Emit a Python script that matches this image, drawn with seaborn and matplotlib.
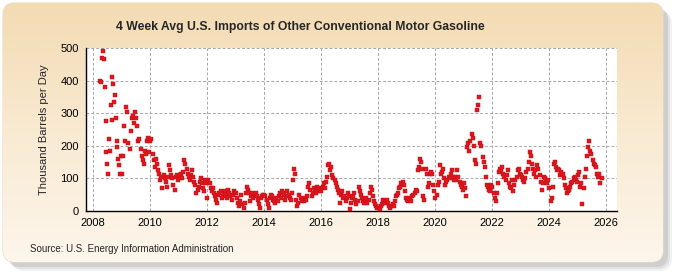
import numpy as np
import pandas as pd
import matplotlib
matplotlib.use("Agg")
import matplotlib.pyplot as plt
from matplotlib.patches import FancyBboxPatch
import seaborn as sns

# ---------------------------------------------------------------------
# DATA (thousand barrels per day, ~biweekly)
# ---------------------------------------------------------------------
years = list(range(2008, 2026))
start_2008 = 2008.25
end_2025 = 2025.87

v2008 = [400, 395, 470, 490, 465, 380, 275, 180, 145, 115, 220, 185, 325,
         280, 410, 390, 335, 355, 285, 215, 195, 160, 140, 115, 170]
v2009 = [115, 170, 260, 215, 320, 305, 210, 190, 245, 285, 290, 270, 305,
         285, 260, 215, 220, 190, 170, 155, 145, 185, 175, 215, 225, 180]
v2010 = [215, 220, 175, 155, 135, 160, 145, 125, 115, 95, 105, 70, 110,
         100, 90, 75, 105, 140, 125, 110, 100, 80, 65, 105, 110, 95]
v2011 = [105, 110, 115, 100, 120, 155, 145, 130, 115, 105, 95, 110, 125,
         105, 90, 80, 55, 65, 75, 90, 100, 85, 70, 60, 95, 85]
v2012 = [40, 95, 85, 70, 60, 70, 55, 45, 35, 25, 50, 55, 60,
         40, 45, 55, 60, 50, 40, 65, 55, 45, 35, 50, 60, 55]
v2013 = [55, 40, 25, 15, 30, 50, 20, 10, 25, 55, 75, 65, 55,
         30, 45, 55, 40, 50, 55, 45, 35, 20, 8, 40, 45, 50]
v2014 = [50, 45, 35, 20, 10, 40, 50, 45, 35, 30, 25, 40, 30,
         45, 55, 40, 60, 55, 50, 35, 45, 60, 50, 40, 35, 55]
v2015 = [95, 130, 115, 35, 15, 25, 50, 40, 30, 35, 30, 40, 35,
         45, 75, 85, 65, 45, 55, 70, 60, 55, 75, 65, 70, 60]
v2016 = [60, 75, 85, 70, 90, 105, 140, 145, 125, 135, 110, 100, 95,
         85, 75, 65, 55, 25, 50, 60, 40, 45, 30, 40, 55, 45]
v2017 = [5, 25, 40, 45, 55, 35, 20, 30, 75, 60, 50, 40, 30,
         25, 35, 40, 25, 35, 55, 75, 65, 45, 30, 20, 15, 10]
v2018 = [10, 5, 15, 20, 35, 30, 25, 30, 35, 25, 15, 10, 15,
         20, 15, 30, 45, 50, 55, 70, 75, 85, 90, 80, 60, 40]
v2019 = [35, 30, 40, 35, 30, 45, 50, 55, 65, 60, 125, 135, 160,
         150, 130, 45, 35, 130, 115, 75, 85, 115, 120, 115, 80, 60]
v2020 = [40, 50, 80, 90, 140, 115, 120, 130, 100, 80, 90, 95, 105,
         100, 115, 125, 105, 95, 105, 95, 125, 105, 90, 80, 75, 65]
v2021 = [85, 70, 45, 195, 210, 185, 215, 235, 225, 200, 155, 145, 310,
         325, 350, 210, 200, 165, 150, 135, 105, 80, 75, 65, 60, 80]
v2022 = [75, 55, 40, 30, 55, 85, 120, 130, 125, 135, 115, 105, 95,
         110, 125, 85, 75, 70, 95, 60, 80, 95, 105, 125, 130, 115]
v2023 = [110, 105, 95, 90, 100, 120, 130, 150, 180, 170, 145, 130, 115,
         125, 105, 140, 130, 110, 90, 65, 85, 105, 100, 90, 85, 95]
v2024 = [70, 30, 40, 75, 145, 150, 135, 125, 130, 125, 110, 120, 115,
         100, 80, 70, 55, 60, 65, 75, 85, 90, 100, 105, 95, 90]
v2025 = [110, 120, 75, 85, 20, 70, 105, 130, 170, 195, 215, 185, 175,
         155, 145, 140, 135, 115, 105, 115, 85, 100]

yearly = [v2008, v2009, v2010, v2011, v2012, v2013, v2014, v2015, v2016,
          v2017, v2018, v2019, v2020, v2021, v2022, v2023, v2024, v2025]

x_ticks = list(range(2008, 2027, 2))
y_ticks = [0, 100, 200, 300, 400, 500]

# build a long table: decimal year -> value
rows = []
for yr, vals in zip(years, yearly):
    s = start_2008 if yr == 2008 else yr
    e = end_2025 if yr == 2025 else yr + 1
    n = len(vals)
    for i, v in enumerate(vals):
        rows.append({"date": s + (i + 0.5) * (e - s) / n, "value": v})
df = pd.DataFrame(rows)

# ---------------------------------------------------------------------
# PLOT
# ---------------------------------------------------------------------
sns.set_style("white")
plt.rcParams["font.family"] = ["Liberation Sans", "DejaVu Sans"]

fig = plt.figure(figsize=(6.75, 2.75), dpi=100)
fig.patch.set_facecolor("white")

# beige rounded frame with soft shadow
bg = fig.add_axes([0, 0, 1, 1], zorder=-10)
bg.set_xlim(0, 675)
bg.set_ylim(275, 0)
bg.axis("off")
for off, a in [(9, 0.12), (7, 0.18), (5, 0.25)]:
    shadow = FancyBboxPatch((3 + off, 3 + off), 660, 259,
                            boxstyle="round,pad=0,rounding_size=12",
                            facecolor="#9a9a9a", edgecolor="none", alpha=a,
                            zorder=1)
    bg.add_patch(shadow)
frame = FancyBboxPatch((3, 3), 660, 259, boxstyle="round,pad=0,rounding_size=12",
                       facecolor="white", edgecolor="#eadbc0", linewidth=0.8,
                       zorder=2)
bg.add_patch(frame)
grad = np.linspace(0, 1, 256).reshape(-1, 1)
cmap = matplotlib.colors.LinearSegmentedColormap.from_list(
    "beige", ["#f3dbb3", "#f9ead2", "#fdf6ec"])
im = bg.imshow(grad, extent=[3, 663, 262, 3], cmap=cmap, aspect="auto",
               zorder=3)
im.set_clip_path(frame)

ax = fig.add_axes([86 / 675, 1 - 211 / 275, (617 - 86) / 675, (211 - 48) / 275])
ax.set_facecolor("white")
sns.scatterplot(data=df, x="date", y="value", marker="s", s=8,
                color="#e3161d", edgecolor="#b5121a", linewidth=0.3, ax=ax,
                zorder=3)

ax.set_xlim(2007.76, 2026.39)
ax.set_ylim(0, 500)
ax.set_xticks(x_ticks)
ax.set_xticklabels([str(t) for t in x_ticks])
ax.set_yticks(y_ticks)
ax.grid(True, color="#a8a8a8", linestyle=(0, (3, 2)), linewidth=0.7)
ax.set_axisbelow(True)
for side in ["top", "right"]:
    ax.spines[side].set_visible(False)
for side in ["left", "bottom"]:
    ax.spines[side].set_color("black")
    ax.spines[side].set_linewidth(1.0)
ax.tick_params(axis="both", which="both", direction="out", length=3,
               width=0.8, labelsize=8, colors="black", pad=2)
ax.set_xlabel("")
ax.set_ylabel("Thousand Barrels per Day", fontsize=8, labelpad=8)

fig.text(300 / 675, 1 - 27 / 275,
         "4 Week Avg U.S. Imports of Other Conventional Motor Gasoline",
         ha="center", va="center", fontsize=8.8, fontweight="bold")
fig.text(30 / 675, 1 - 249 / 275, "Source: U.S. Energy Information Administration",
         ha="left", va="center", fontsize=7)

fig.savefig("out.png", dpi=100, facecolor=fig.get_facecolor())
plt.close(fig)
